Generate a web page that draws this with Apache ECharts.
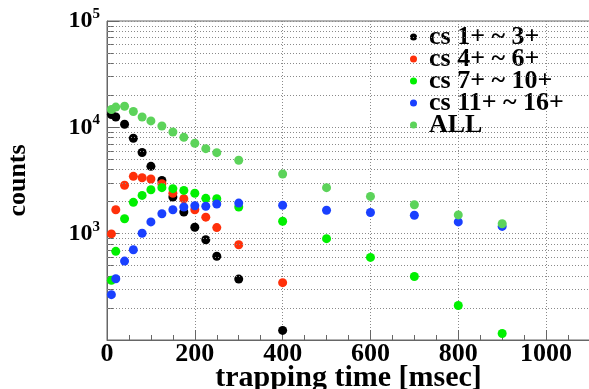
<!DOCTYPE html>
<html>
<head>
<meta charset="utf-8">
<script src="https://cdn.jsdelivr.net/npm/echarts@6/dist/echarts.min.js"></script>
<style>
  html, body { margin: 0; padding: 0; background: #fff; }
  #main { width: 589px; height: 389px; }
</style>
</head>
<body>
<div id="main"></div>
<script>
// trapping times [msec]
const times = [10, 20, 40, 60, 80, 100, 125, 150, 175, 200, 225, 250, 300, 400, 500, 600, 700, 800, 900]

// counts per charge-state group
const cs1to3 = [13200, 12500, 10700, 7900, 5800, 4300, 3170, 2210, 1600, 1150, 877, 613, 374, 123]
const cs4to6 = [995, 1680, 2850, 3460, 3360, 3270, 2950, 2400, 2130, 1680, 1430, 1140, 787, 346]
const cs7to10 = [364, 682, 1380, 1970, 2290, 2590, 2710, 2650, 2550, 2400, 2150, 2130, 1780, 1310, 898, 598, 396, 211, 115]
const cs11to16 = [267, 377, 552, 706, 1010, 1290, 1540, 1680, 1780, 1830, 1810, 1900, 1940, 1850, 1660, 1580, 1490, 1290, 1170]
const allCounts = [14700, 15500, 15800, 14100, 12500, 11500, 10300, 9040, 8050, 7080, 6300, 5780, 4900, 3640, 2710, 2240, 1870, 1500, 1240]

const seriesNames = ['cs 1+ ~ 3+', 'cs 4+ ~ 6+', 'cs 7+ ~ 10+', 'cs 11+ ~ 16+', 'ALL']
const seriesColors = ['#000000', '#ff300a', '#00f000', '#1a40ff', '#5cd35a']
const seriesValues = [cs1to3, cs4to6, cs7to10, cs11to16, allCounts]

// log-axis minor grid positions (2..9 x each decade)
const minorLogTicks = [200, 300, 400, 500, 600, 700, 800, 900,
  2000, 3000, 4000, 5000, 6000, 7000, 8000, 9000,
  20000, 30000, 40000, 50000, 60000, 70000, 80000, 90000]

const serif = '"Liberation Serif", "DejaVu Serif", serif'
const gridGray = '#8a8a8a'
const axisGray = '#666'

const pair = (vals) => vals.map((v, i) => [times[i], v])

const series = seriesValues.map((vals, i) => ({
  name: seriesNames[i],
  type: 'scatter',
  symbol: 'circle',
  symbolSize: 9,
  itemStyle: { color: seriesColors[i], opacity: 1 },
  data: pair(vals),
  z: 3 + i
}))

// helper series: dotted minor grid lines and small left ticks for the log axis
series.unshift({
  name: 'grid',
  type: 'scatter',
  data: [],
  silent: true,
  z: 1,
  markLine: {
    silent: true,
    symbol: 'none',
    animation: false,
    label: { show: false },
    lineStyle: { color: gridGray, type: [1, 2], width: 1 },
    data: minorLogTicks.map(v => ({ yAxis: v }))
  }
})
series.unshift({
  name: 'ticks',
  type: 'scatter',
  data: [],
  silent: true,
  z: 2,
  markLine: {
    silent: true,
    symbol: 'none',
    animation: false,
    label: { show: false },
    lineStyle: { color: axisGray, type: 'solid', width: 1 },
    data: minorLogTicks.map(v => [{ coord: [0, v] }, { coord: [16, v] }])
  }
})

const option = {
  animation: false,
  backgroundColor: '#fff',
  grid: {
    left: 107,
    right: -1,
    top: 21,
    bottom: 49,
    show: true,
    borderColor: axisGray,
    borderWidth: 1,
    containLabel: false,
    outerBoundsMode: 'none'
  },
  legend: {
    data: seriesNames,
    orient: 'vertical',
    left: 410,
    top: 24,
    icon: 'circle',
    itemWidth: 7,
    itemHeight: 7,
    itemGap: -4,
    padding: 0,
    textStyle: {
      fontFamily: serif,
      fontWeight: 'bold',
      fontSize: 26,
      lineHeight: 24,
      color: '#000',
      padding: [0, 0, 0, 7]
    }
  },
  xAxis: {
    type: 'value',
    min: 0,
    max: 1100,
    interval: 200,
    name: 'trapping time [msec]',
    nameLocation: 'middle',
    nameGap: 23,
    nameMoveOverlap: false,
    nameTextStyle: { fontFamily: serif, fontWeight: 'bold', fontSize: 30, color: '#000' },
    axisLine: { show: true, lineStyle: { color: axisGray } },
    axisTick: { show: true, inside: true, length: 10, lineStyle: { color: axisGray } },
    minorTick: { show: true, splitNumber: 4, length: 5, lineStyle: { color: axisGray } },
    splitLine: { show: true, lineStyle: { color: gridGray, type: [1, 2] } },
    axisLabel: {
      margin: 1,
      fontFamily: serif,
      fontWeight: 'bold',
      fontSize: 26,
      color: '#000',
      showMaxLabel: false,
      formatter: (v) => (v % 200 === 0 ? String(v) : '')
    }
  },
  yAxis: {
    type: 'log',
    logBase: 10,
    min: 100,
    max: 100000,
    name: 'counts',
    nameLocation: 'middle',
    nameGap: 76,
    nameRotate: 90,
    nameMoveOverlap: false,
    nameTextStyle: { fontFamily: serif, fontWeight: 'bold', fontSize: 26, color: '#000' },
    axisLine: { show: true, lineStyle: { color: axisGray } },
    axisTick: { show: true, inside: true, length: 12, lineStyle: { color: axisGray } },
    splitLine: { show: true, lineStyle: { color: gridGray, type: [1, 2] } },
    axisLabel: {
      margin: 7,
      showMinLabel: false,
      showMaxLabel: true,
      formatter: (v) => {
        const e = Math.round(Math.log10(v))
        if (e <= 2) return ''
        return '{b|10}{s|' + e + '}'
      },
      rich: {
        b: { fontFamily: serif, fontWeight: 'bold', fontSize: 24, color: '#000' },
        s: { fontFamily: serif, fontWeight: 'bold', fontSize: 15, color: '#000', padding: [0, 0, 14, 0] }
      }
    }
  },
  series: series
}

const myChart = echarts.init(document.getElementById('main'), null, { renderer: 'canvas' })
myChart.setOption(option)
</script>
</body>
</html>
